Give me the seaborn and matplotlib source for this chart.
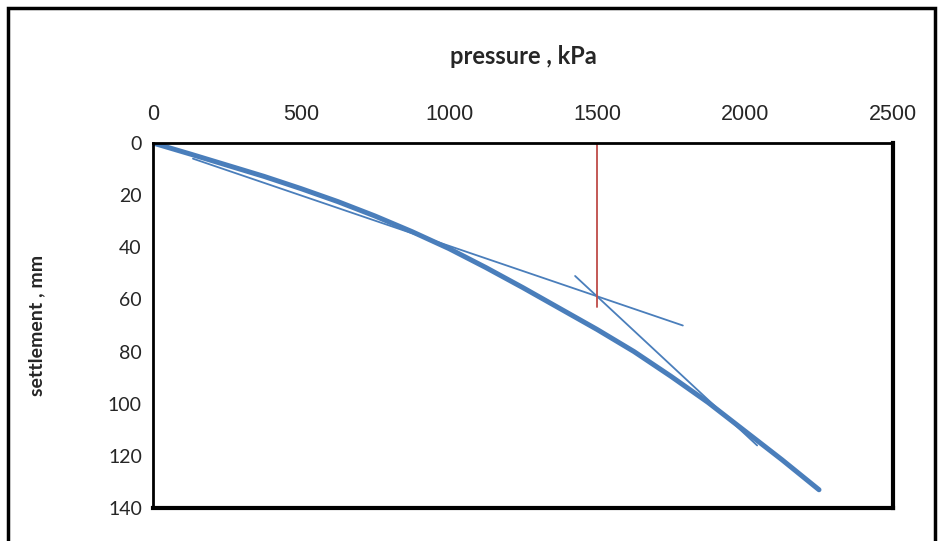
import matplotlib
matplotlib.use("Agg")
import matplotlib.pyplot as plt
import matplotlib.patches as patches
import pandas as pd
import seaborn as sns

# load-settlement curve
pressure = [0, 125, 250, 375, 500, 625, 750, 875, 1000, 1125,
            1250, 1375, 1500, 1625, 1750, 1875, 2000, 2125, 2250]
settlement = [0, 4.2, 8.5, 12.8, 17.5, 22.5, 28, 34, 40.5, 47.8,
              55.5, 63.5, 71.5, 80, 89.5, 99.5, 110.5, 121.5, 133]

# tangent lines drawn by hand on the chart
tan1_p = [135, 1790]
tan1_s = [6, 70]
tan2_p = [1426, 2041]
tan2_s = [51, 116]

# vertical marker at the yield pressure
mark_p = [1500, 1500]
mark_s = [0, 63]

x_ticks = [0, 500, 1000, 1500, 2000, 2500]
y_ticks = [0, 20, 40, 60, 80, 100, 120, 140]

blue = "#4A7EBB"
red = "#BE4B48"

sns.set_style("white")
plt.rcParams['font.family'] = ['Liberation Sans', 'DejaVu Sans']

fig = plt.figure(figsize=(9.39, 5.41), dpi=100)
ax = fig.add_axes([153 / 939, 1 - 508 / 541, (893 - 153) / 939, (508 - 143) / 541])

curve = pd.DataFrame({'p': pressure, 's': settlement})
sns.lineplot(data=curve, x='p', y='s', ax=ax, color=blue, linewidth=3.6,
             estimator=None, sort=False, solid_capstyle='round', solid_joinstyle='round')
sns.lineplot(x=tan1_p, y=tan1_s, ax=ax, color=blue, linewidth=1.3, estimator=None, sort=False)
sns.lineplot(x=tan2_p, y=tan2_s, ax=ax, color=blue, linewidth=1.3, estimator=None, sort=False)
sns.lineplot(x=mark_p, y=mark_s, ax=ax, color=red, linewidth=1.3, estimator=None, sort=False)

ax.set_xlim(0, 2500)
ax.set_ylim(140, 0)
ax.set_xticks(x_ticks)
ax.set_yticks(y_ticks)
ax.xaxis.tick_top()
ax.xaxis.set_label_position('top')
ax.tick_params(axis='x', length=0, pad=13, labelsize=15.5)
ax.tick_params(axis='y', length=0, pad=8, labelsize=14)
for lab in ax.get_yticklabels():
    lab.set_family(['Lato', 'DejaVu Sans'])

ax.set_xlabel('pressure , kPa', fontsize=17, fontweight='bold', family=['Lato', 'DejaVu Sans'], labelpad=29)
ax.set_ylabel('settlement , mm', fontsize=14, fontweight='bold', family=['Lato', 'DejaVu Sans'], labelpad=45)

for side in ['top', 'left']:
    ax.spines[side].set_linewidth(2)
    ax.spines[side].set_color('black')
for side in ['bottom', 'right']:
    ax.spines[side].set_linewidth(3)
    ax.spines[side].set_color('black')

# outer chart frame (bottom edge falls outside the image)
frame = patches.Rectangle((8 / 939, -0.1), (935 - 8) / 939, 1.1 - 8 / 541,
                          transform=fig.transFigure, fill=False, edgecolor='black', linewidth=2.5)
fig.patches.append(frame)

fig.savefig('out.png', dpi=100)
